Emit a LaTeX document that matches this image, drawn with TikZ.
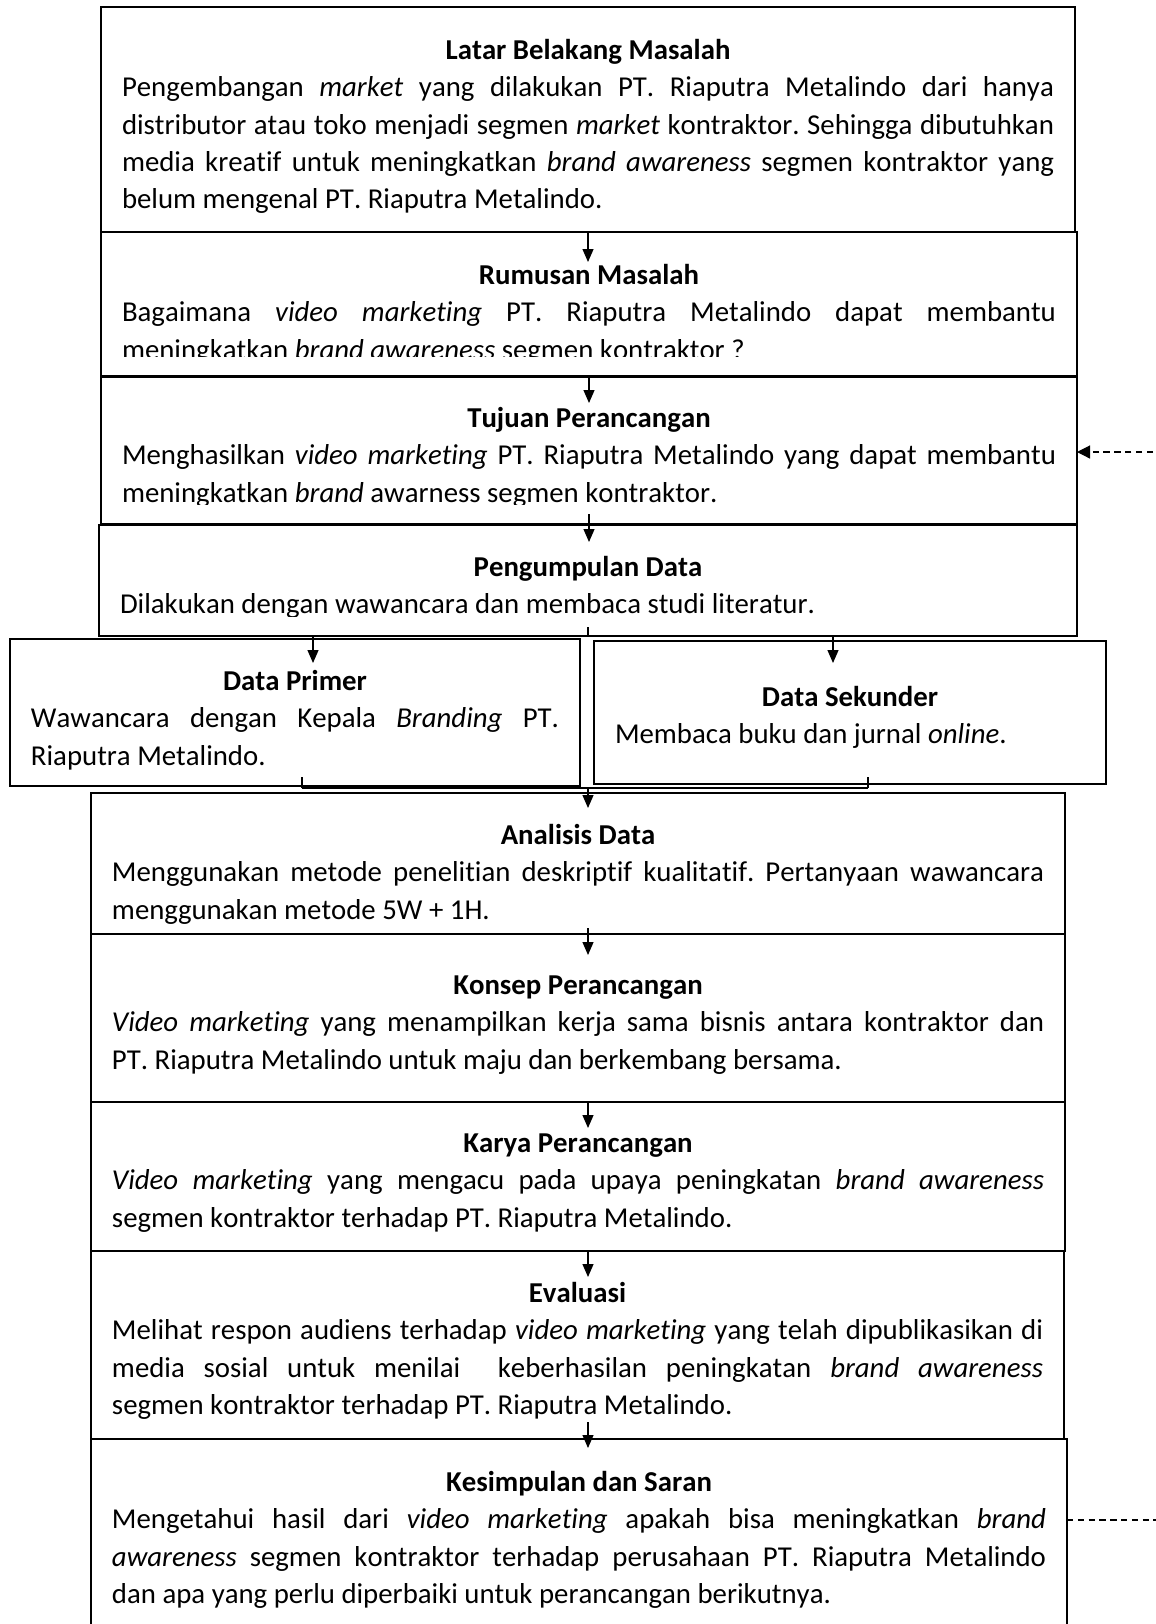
\documentclass[tikz,border=0pt]{standalone}
\usepackage{fontspec}
\setmainfont{Carlito}[Ligatures=NoCommon,Kerning=Off]
\usepackage{tikz}
\usetikzlibrary{arrows.meta}
\frenchspacing

\begin{document}
\begin{tikzpicture}[x=0.5pt,y=-0.5pt]

		\tikzset{
            stepbox/.style={
                draw=black,
                line width=1pt,
                inner sep=0pt,
                outer sep=0pt,
                anchor=north west
            },
            steptext/.style={
                font={\fontsize{14.4}{18.65}\selectfont\tolerance=9999\hyphenpenalty=10000},
                align=justify,
                inner sep=0pt,
                anchor=north
            },
            flow/.style={
                line width=0.6pt,
                -{Triangle[length=6.5pt,width=5.5pt]}
            },
            link/.style={
                line width=0.6pt
            },
            feedback/.style={
                line width=0.6pt,
                dash pattern=on 3.2pt off 2.2pt,
                -{Triangle[length=6.5pt,width=6.5pt]}
            }
        }

        \newcommand{\StepBox}[9]{
            \pgfmathsetmacro{\BoxWd}{#4*0.5}
            \pgfmathsetmacro{\BoxHt}{#5*0.5}
            \pgfmathsetmacro{\TextWd}{(#4-42)*0.5}
            \pgfmathsetmacro{\TextDn}{(#6-17)*0.5}
            \pgfmathsetmacro{\ClipUp}{#9*0.5}
            \node[stepbox, minimum width=\BoxWd pt, minimum height=\BoxHt pt] (#1) at (#2,#3) {};
            \begin{scope}
                \clip (#1.north west) rectangle ([yshift=\ClipUp pt]#1.south east);
                \node[steptext, text width=\TextWd pt] (#1-text) at ([yshift=-\TextDn pt]#1.north)
                    {{\centering\bfseries\strut #7\par}\noindent #8};
            \end{scope}
        }

        \useasboundingbox (0,0) rectangle (1156,1624);
        \clip (0,0) rectangle (1156,1624);

        \StepBox{latar}{101}{7}{974}{225}{43}{Latar Belakang Masalah}{Pengembangan \textit{market} yang dilakukan PT. Riaputra Metalindo dari hanya\linebreak distributor atau toko menjadi segmen \textit{market} kontraktor. Sehingga dibutuhkan\linebreak media kreatif untuk meningkatkan \textit{brand awareness} segmen kontraktor yang\linebreak belum mengenal PT. Riaputra Metalindo.}{0}

        \StepBox{rumusan}{101}{232}{976}{144}{43}{Rumusan Masalah}{Bagaimana \textit{video marketing} PT. Riaputra Metalindo dapat membantu\linebreak meningkatkan \textit{brand awareness} segmen kontraktor~?}{20}

        \StepBox{tujuan}{101}{377}{976}{147}{41}{Tujuan Perancangan}{Menghasilkan \textit{video marketing} PT. Riaputra Metalindo yang dapat membantu\linebreak meningkatkan \textit{brand} awarness segmen kontraktor.}{20}

        \StepBox{pengumpulan}{99}{525}{978}{111}{42}{Pengumpulan Data}{Dilakukan dengan wawancara dan membaca studi literatur.}{20}

        \StepBox{primer}{10}{639}{570}{147}{42}{Data Primer}{Wawancara dengan Kepala \textit{Branding} PT.\linebreak Riaputra Metalindo.}{0}

        \StepBox{sekunder}{594}{641}{512}{143}{56}{Data Sekunder}{Membaca buku dan jurnal \textit{online}.}{0}

        \StepBox{analisis}{91}{793}{974}{141}{42}{Analisis Data}{Menggunakan metode penelitian deskriptif kualitatif. Pertanyaan wawancara\linebreak menggunakan metode 5W + 1H.}{0}

        \StepBox{konsep}{91}{934}{974}{168}{51}{Konsep Perancangan}{\textit{Video marketing} yang menampilkan kerja sama bisnis antara kontraktor dan\linebreak PT. Riaputra Metalindo untuk maju dan berkembang bersama.}{0}

        \StepBox{karya}{91}{1102}{974}{149}{41}{Karya Perancangan}{\textit{Video marketing} yang mengacu pada upaya peningkatan \textit{brand awareness}\linebreak segmen kontraktor terhadap PT. Riaputra Metalindo.}{0}

        \StepBox{evaluasi}{91}{1251}{973}{188}{42}{Evaluasi}{Melihat respon audiens terhadap \textit{video marketing} yang telah dipublikasikan di\linebreak media sosial untuk menilai~ keberhasilan peningkatan \textit{brand awareness}\linebreak segmen kontraktor terhadap PT. Riaputra Metalindo.}{0}

        \StepBox{kesimpulan}{91}{1439}{976}{250}{43}{Kesimpulan dan Saran}{Mengetahui hasil dari \textit{video marketing} apakah bisa meningkatkan \textit{brand}\linebreak \textit{awareness} segmen kontraktor terhadap perusahaan PT. Riaputra Metalindo\linebreak dan apa yang perlu diperbaiki untuk perancangan berikutnya.}{0}

        \draw[flow] (latar.south) -- ++(0,30);
        \draw[flow] (rumusan.south) -- ++(0,27);
        \draw[flow] ([yshift=5pt]tujuan.south) -- ++(0,28);

        \coordinate (split) at (pengumpulan.south);
        \coordinate (split-l) at (313,636);
        \coordinate (split-r) at (833,636);
        \draw[link] ([yshift=4.5pt]split) -- (split);
        \draw[link] (split-l) -- (split-r);
        \draw[flow] (split-l) -- ++(0,27);
        \draw[flow] (split-r) -- ++(0,27);

        \coordinate (join-l) at (302,788);
        \coordinate (join-r) at (868,788);
        \draw[link] (join-l) -- ++(0,-11);
        \draw[link] (join-r) -- ++(0,-11);
        \draw[link] (join-l) -- (join-r);
        \draw[flow] (join-l -| latar.south) -- ++(0,20);

        \draw[flow] ([yshift=3pt]analisis.south -| latar.south) -- ++(0,27);
        \draw[flow] (konsep.south -| latar.south) -- ++(0,26);
        \draw[flow] (karya.south -| latar.south) -- ++(0,26);
        \draw[flow] ([yshift=8.5pt]evaluasi.south -| latar.south) -- ++(0,26);

        \draw[feedback] (kesimpulan.east |- 0,1520) -- ++(130,0) |- (tujuan.east |- 0,452);

        \end{tikzpicture}
\end{document}
